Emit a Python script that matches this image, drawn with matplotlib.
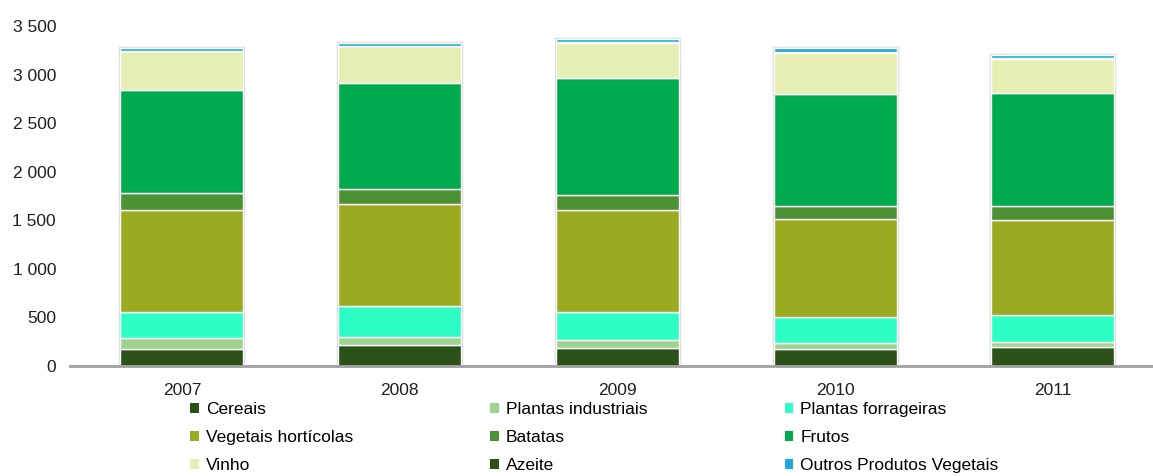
import numpy as np
import matplotlib.pyplot as plt
from matplotlib.patches import Patch
from matplotlib.ticker import FuncFormatter

plt.rcParams['font.family'] = ['Liberation Sans', 'DejaVu Sans']

anos = ['2007', '2008', '2009', '2010', '2011']

# valores (milhões de euros, aprox.)
cereais = [180, 216, 188, 171, 192]
plantas_industriais = [105, 85, 79, 62, 51]
plantas_forrageiras = [274, 315, 291, 267, 281]
vegetais_horticolas = [1044, 1054, 1044, 1009, 982]
batatas = [181, 154, 154, 134, 137]
frutos = [1058, 1085, 1208, 1157, 1170]
vinho = [396, 380, 366, 424, 346]
azeite = [4, 4, 4, 4, 8]
outros = [32, 34, 30, 46, 38]

series = [
    ('Cereais', cereais, '#2d5219'),
    ('Plantas industriais', plantas_industriais, '#9fd18f'),
    ('Plantas forrageiras', plantas_forrageiras, '#2effc5'),
    ('Vegetais hortícolas', vegetais_horticolas, '#9aab22'),
    ('Batatas', batatas, '#4c9134'),
    ('Frutos', frutos, '#00ab4e'),
    ('Vinho', vinho, '#e6eeb4'),
    ('Azeite', azeite, '#2d5219'),
    ('Outros Produtos Vegetais', outros, '#1ba9e3'),
]

fig = plt.figure(figsize=(11.53, 4.76), dpi=100)
ax = fig.add_axes([0.0607, 0.2311, 0.9393, 0.7143])

x = np.arange(len(anos))
largura = 0.565

# sombra cinzenta à volta das barras
total = np.sum([s[1] for s in series], axis=0)
ax.bar(x, total, width=largura, color='none', edgecolor='#dcdcdc',
       linewidth=2.5, zorder=1)

base = np.zeros(len(anos))
for nome, valores, cor in series:
    ax.bar(x, valores, width=largura, bottom=base, color=cor,
           edgecolor='white', linewidth=1.0, label=nome, zorder=2)
    base += np.array(valores)

ax.set_xlim(-0.514, 4.46)
ax.set_ylim(0, 3500)
ax.set_yticks(np.arange(0, 3501, 500))
ax.yaxis.set_major_formatter(FuncFormatter(lambda v, p: f'{int(v):,}'.replace(',', ' ')))
ax.set_xticks(x)
ax.set_xticklabels(anos)

for lado in ['top', 'right', 'left']:
    ax.spines[lado].set_visible(False)
ax.spines['bottom'].set_color('#a0a0a0')
ax.spines['bottom'].set_linewidth(2)
ax.spines['bottom'].set_zorder(3)
ax.tick_params(axis='both', length=0, labelsize=12.5, colors='#1f1f1f')
ax.tick_params(axis='y', pad=10)
ax.tick_params(axis='x', pad=12)

# legenda em 3 colunas (ordem por linha)
handles = [Patch(facecolor=c, edgecolor='none') for _, _, c in series]
labels = [n for n, _, _ in series]
ordem = [0, 3, 6, 1, 4, 7, 2, 5, 8]
fig.legend([handles[i] for i in ordem], [labels[i] for i in ordem],
           ncol=3, loc='upper left', bbox_to_anchor=(0.165, 0.155),
           frameon=False, fontsize=12.5, handlelength=0.5, handleheight=0.5,
           handletextpad=0.4, columnspacing=7.9, labelspacing=0.74,
           borderaxespad=0, borderpad=0)

plt.savefig('out.png', dpi=100)
